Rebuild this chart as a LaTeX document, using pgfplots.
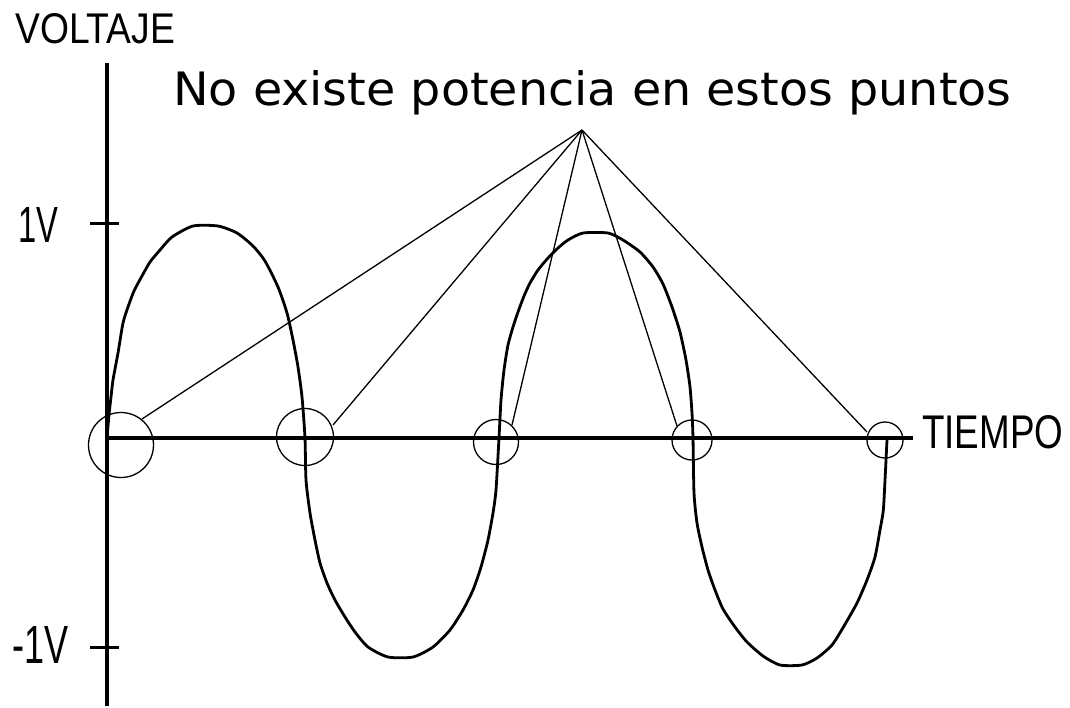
\documentclass[border=0pt]{standalone}
\usepackage{fontspec}
\setmainfont{Liberation Sans}
\newfontfamily\dejavu{DejaVu Sans}
\usepackage{pgfplots}
\pgfplotsset{compat=1.18}
\begin{document}
\begin{tikzpicture}
\begin{axis}[
  scale only axis, width=1070pt, height=706pt,
  xmin=0, xmax=1070, ymin=0, ymax=706, y dir=reverse,
  axis lines=none, clip=false,
]
\path (axis cs:0,0) rectangle (axis cs:1070,706);
% axes
\addplot[black, line width=3.5pt, line cap=butt] coordinates {(107,63) (107,706)};
\addplot[black, line width=3.5pt] coordinates {(107,438) (913,438)};
% ticks
\addplot[black, line width=3pt] coordinates {(90,223) (119,223)};
\addplot[black, line width=3pt] coordinates {(90,647) (119,647)};
% curve
\addplot[black, line width=2.8pt, line join=round, smooth, tension=0.4] coordinates {
(107,438) (109,415) (111,397) (113,380) (118,353) (123,323) (128,307) (134,291) (142,276) (150,262) (160,250) (172,237) (193,226) (218,226) (237,233) (253,246) (265,261) (278,287) (287,313) (293,340) (298,367) (302,397) (305,438)
(306,480) (310,513) (315,540) (320,563) (327,583) (335,600) (345,617) (355,632) (368,647) (388,657) (413,657) (433,647) (450,630) (463,610) (473,590) (481,567) (488,540) (493,513) (496,490) (499,438)
(501,400) (504,370) (508,345) (513,327) (518,312) (524,296) (530,283) (538,270) (548,258) (558,248) (568,240) (583,233) (608,233) (623,240) (640,252) (653,267) (663,284) (672,307) (680,332) (686,360) (690,387) (692,413) (693,438)
(694,493) (697,523) (702,547) (708,570) (715,590) (723,609) (735,627) (747,642) (763,656) (780,665) (802,665) (817,658) (832,645) (844,626) (857,603) (867,580) (875,557) (880,530) (883,513) (884,500) (887,440)};
% circles at zero crossings
\addplot[only marks, mark=o, mark size=32.5pt, mark options={line width=1.3pt}] coordinates {(121,445)};
\addplot[only marks, mark=o, mark size=28.5pt, mark options={line width=1.3pt}] coordinates {(305,437)};
\addplot[only marks, mark=o, mark size=22.5pt, mark options={line width=1.3pt}] coordinates {(496,442)};
\addplot[only marks, mark=o, mark size=20pt, mark options={line width=1.3pt}] coordinates {(692,440)};
\addplot[only marks, mark=o, mark size=18pt, mark options={line width=1.3pt}] coordinates {(885,440)};
% pointer lines
\addplot[black, line width=1.3pt] coordinates {(582,130) (142,419)};
\addplot[black, line width=1.3pt] coordinates {(582,130) (333,425)};
\addplot[black, line width=1.3pt] coordinates {(582,130) (512,425)};
\addplot[black, line width=1.3pt] coordinates {(582,130) (677,426)};
\addplot[black, line width=1.3pt] coordinates {(582,130) (867,432)};
% texts
\node[anchor=base west, inner sep=0pt] at (axis cs:15,43) {\resizebox{160pt}{30pt}{VOLTAJE}};
\node[anchor=base west, inner sep=0pt] at (axis cs:922,448) {\resizebox{141pt}{33pt}{TIEMPO}};
\node[anchor=base west, inner sep=0pt] at (axis cs:18,242) {\resizebox{40pt}{35pt}{1V}};
\node[anchor=base west, inner sep=0pt] at (axis cs:12,663) {\resizebox{56pt}{37pt}{-1V}};
\node[anchor=base west, inner sep=0pt] at (axis cs:173,105) {\scalebox{1.035}[1]{\dejavu\fontsize{46}{50}\selectfont No existe potencia en estos puntos}};
\end{axis}
\end{tikzpicture}
\end{document}
